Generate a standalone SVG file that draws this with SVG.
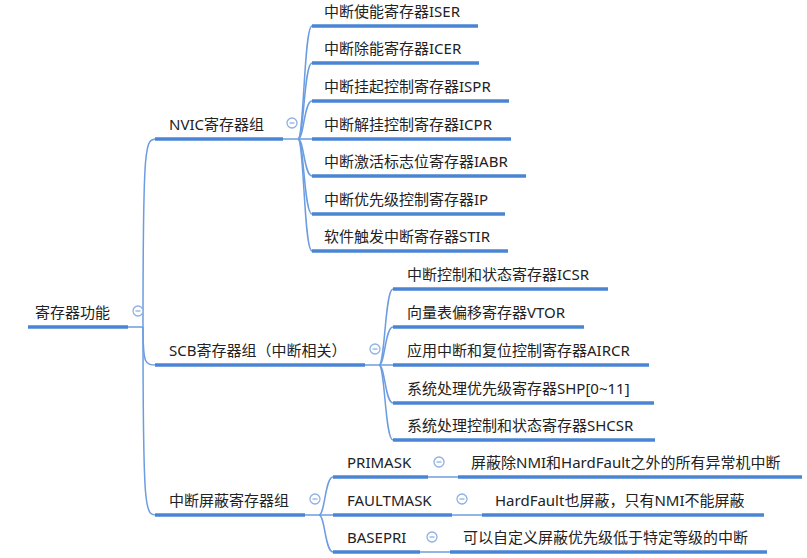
<svg xmlns="http://www.w3.org/2000/svg" width="807" height="558" viewBox="0 0 807 558">
<style>
.t{font-family:"Noto Sans","Noto Sans CJK SC","Microsoft YaHei",sans-serif;font-size:15px;fill:#222}
.u{stroke:#4a85d5;stroke-width:3.5;fill:none}
.c{stroke:#6b9de0;stroke-width:1.5;fill:none}
.k{fill:#fff;stroke:#8eb0e3;stroke-width:1.3}
.m{stroke:#8eb0e3;stroke-width:1.3}
</style>
<rect width="807" height="558" fill="#fff"/>
<g id="connectors">
  <path class="c" d="M128,327 H143"/>
  <path class="c" d="M143,327 C143,139 145,139 157,139"/>
  <path class="c" d="M143,327 C143,365 145,365 157,365"/>
  <path class="c" d="M143,327 C143,515 145,515 157,515"/>
  <path class="c" d="M283,139 H312"/>
  <path class="c" d="M298,139 C304,139 304,26 312,26"/>
  <path class="c" d="M298,139 C304,139 304,63 312,63"/>
  <path class="c" d="M298,139 C304,139 304,101 312,101"/>
  <path class="c" d="M298,139 C304,139 304,176 312,176"/>
  <path class="c" d="M298,139 C304,139 304,214 312,214"/>
  <path class="c" d="M298,139 C304,139 304,251 312,251"/>
  <path class="c" d="M365,365 H393"/>
  <path class="c" d="M379,365 C385,365 385,289 393,289"/>
  <path class="c" d="M379,365 C385,365 385,327 393,327"/>
  <path class="c" d="M379,365 C385,365 385,403 393,403"/>
  <path class="c" d="M379,365 C385,365 385,440 393,440"/>
  <path class="c" d="M305,515 H333"/>
  <path class="c" d="M319,515 C325,515 325,477 333,477"/>
  <path class="c" d="M319,515 C325,515 325,552 333,552"/>
  <path class="c" d="M428,477 H458"/>
  <path class="c" d="M452,515 H482"/>
  <path class="c" d="M420,552 H450"/>
</g>
<g id="root">
  <text class="t" x="35" y="318">寄存器功能</text>
  <path class="u" d="M28,327 H128"/>
  <circle class="k" cx="138" cy="311" r="5"/><path class="m" d="M135.5,311 H140.5"/>
</g>
<g id="nvic">
  <text class="t" x="169" y="130">NVIC寄存器组</text>
  <path class="u" d="M155,139 H283"/>
  <circle class="k" cx="292" cy="123" r="5"/><path class="m" d="M289.5,123 H294.5"/>
</g>
<g id="iser"><text class="t" x="324" y="17">中断使能寄存器ISER</text><path class="u" d="M312,26 H478"/></g>
<g id="icer"><text class="t" x="324" y="54">中断除能寄存器ICER</text><path class="u" d="M312,63 H479"/></g>
<g id="ispr"><text class="t" x="324" y="92">中断挂起控制寄存器ISPR</text><path class="u" d="M312,101 H509"/></g>
<g id="icpr"><text class="t" x="324" y="130">中断解挂控制寄存器ICPR</text><path class="u" d="M312,139 H511"/></g>
<g id="iabr"><text class="t" x="324" y="167">中断激活标志位寄存器IABR</text><path class="u" d="M312,176 H526"/></g>
<g id="ip"><text class="t" x="324" y="205">中断优先级控制寄存器IP</text><path class="u" d="M312,214 H505"/></g>
<g id="stir"><text class="t" x="324" y="242">软件触发中断寄存器STIR</text><path class="u" d="M312,251 H508"/></g>
<g id="scb">
  <text class="t" x="169" y="356">SCB寄存器组（中断相关）</text>
  <path class="u" d="M155,365 H365"/>
  <circle class="k" cx="375" cy="349" r="5"/><path class="m" d="M372.5,349 H377.5"/>
</g>
<g id="icsr"><text class="t" x="407" y="280">中断控制和状态寄存器ICSR</text><path class="u" d="M393,289 H608"/></g>
<g id="vtor"><text class="t" x="407" y="318">向量表偏移寄存器VTOR</text><path class="u" d="M393,327 H584"/></g>
<g id="aircr"><text class="t" x="407" y="356">应用中断和复位控制寄存器AIRCR</text><path class="u" d="M393,365 H649"/></g>
<g id="shp"><text class="t" x="407" y="394">系统处理优先级寄存器SHP[0~11]</text><path class="u" d="M393,403 H654"/></g>
<g id="shcsr"><text class="t" x="407" y="431">系统处理控制和状态寄存器SHCSR</text><path class="u" d="M393,440 H655"/></g>
<g id="mask">
  <text class="t" x="169" y="506">中断屏蔽寄存器组</text>
  <path class="u" d="M155,515 H305"/>
  <circle class="k" cx="315" cy="499" r="5"/><path class="m" d="M312.5,499 H317.5"/>
</g>
<g id="primask">
  <text class="t" x="347" y="468">PRIMASK</text>
  <path class="u" d="M333,477 H428"/>
  <circle class="k" cx="439" cy="462" r="5"/><path class="m" d="M436.5,462 H441.5"/>
</g>
<g id="primask-desc"><text class="t" x="471" y="468">屏蔽除NMI和HardFault之外的所有异常机中断</text><path class="u" d="M458,477 H802"/></g>
<g id="faultmask">
  <text class="t" x="347" y="506">FAULTMASK</text>
  <path class="u" d="M333,515 H452"/>
  <circle class="k" cx="462" cy="499" r="5"/><path class="m" d="M459.5,499 H464.5"/>
</g>
<g id="faultmask-desc"><text class="t" x="495" y="506">HardFault也屏蔽，只有NMI不能屏蔽</text><path class="u" d="M482,515 H764"/></g>
<g id="basepri">
  <text class="t" x="347" y="543">BASEPRI</text>
  <path class="u" d="M333,552 H420"/>
  <circle class="k" cx="432" cy="537" r="5"/><path class="m" d="M429.5,537 H434.5"/>
</g>
<g id="basepri-desc"><text class="t" x="463" y="543">可以自定义屏蔽优先级低于特定等级的中断</text><path class="u" d="M450,552 H767"/></g>
</svg>
